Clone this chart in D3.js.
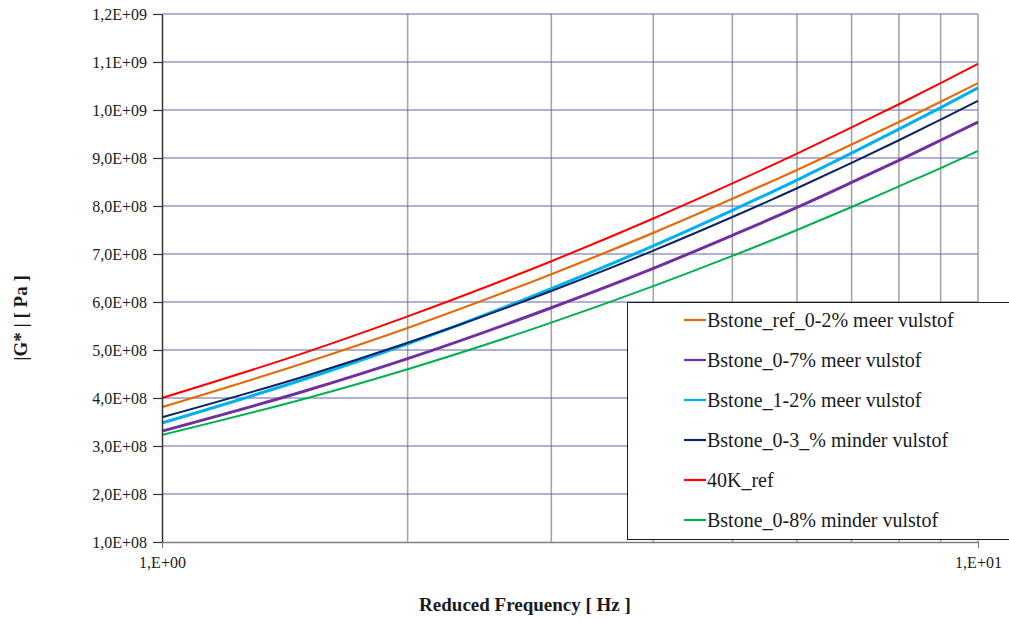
<!DOCTYPE html>
<html>
<head>
<meta charset="utf-8">
<script src="https://cdn.jsdelivr.net/npm/d3@7"></script>
<style>
  body { margin: 0; background: #fff; }
  svg { display: block; }
  text { font-family: "Liberation Serif", "Times New Roman", serif; fill: #1a1a1a; }
</style>
</head>
<body>
<svg id="chart" width="1009" height="621"></svg>
<script>
// Reduced frequency [Hz]
const frequencies = [1, 1.5, 2, 3, 4, 5, 6, 7, 8, 9, 10];

// |G*| [Pa] per mix
const bstoneRef02Meer = [3.81e8, 4.74e8, 5.46e8, 6.58e8, 7.44e8, 8.15e8, 8.75e8, 9.28e8, 9.75e8, 10.17e8, 10.56e8];
const bstone07Meer    = [3.31e8, 4.15e8, 4.82e8, 5.88e8, 6.70e8, 7.39e8, 7.97e8, 8.49e8, 8.95e8, 9.37e8, 9.75e8];
const bstone12Meer    = [3.48e8, 4.40e8, 5.13e8, 6.28e8, 7.17e8, 7.91e8, 8.54e8, 9.10e8, 9.60e8, 10.05e8, 10.46e8];
const bstone03Minder  = [3.60e8, 4.46e8, 5.15e8, 6.23e8, 7.07e8, 7.77e8, 8.37e8, 8.90e8, 9.37e8, 9.80e8, 10.19e8];
const ref40K          = [4.00e8, 4.95e8, 5.70e8, 6.85e8, 7.74e8, 8.47e8, 9.09e8, 9.64e8, 10.12e8, 10.56e8, 10.96e8];
const bstone08Minder  = [3.23e8, 3.99e8, 4.60e8, 5.57e8, 6.33e8, 6.96e8, 7.50e8, 7.98e8, 8.41e8, 8.79e8, 9.15e8];

const seriesNames  = ["Bstone_ref_0-2% meer vulstof", "Bstone_0-7% meer vulstof", "Bstone_1-2% meer vulstof",
                      "Bstone_0-3_% minder vulstof", "40K_ref", "Bstone_0-8% minder vulstof"];
const seriesValues = [bstoneRef02Meer, bstone07Meer, bstone12Meer, bstone03Minder, ref40K, bstone08Minder];
const seriesColors = ["#e36c0a", "#7030a0", "#00b0f0", "#0c2461", "#ff0000", "#00b050"];
const seriesWidths = [2.2, 3, 3, 2, 2, 2];

// Axis ticks
const yTickValues = [1e8, 2e8, 3e8, 4e8, 5e8, 6e8, 7e8, 8e8, 9e8, 1.0e9, 1.1e9, 1.2e9];
const yTickLabels = ["1,0E+08", "2,0E+08", "3,0E+08", "4,0E+08", "5,0E+08", "6,0E+08",
                     "7,0E+08", "8,0E+08", "9,0E+08", "1,0E+09", "1,1E+09", "1,2E+09"];
const xTickValues = [1, 10];
const xTickLabels = ["1,E+00", "1,E+01"];
const xGridValues = [2, 3, 4, 5, 6, 7, 8, 9];

const svg = d3.select("#chart");
const plot = { left: 162, right: 978, top: 14, bottom: 542 };

const x = d3.scaleLog().domain([1, 10]).range([plot.left, plot.right]);
const y = d3.scaleLinear().domain([1e8, 1.2e9]).range([plot.bottom, plot.top]);

// Vertical (minor decade) gridlines
svg.append("g").selectAll("line").data(xGridValues).join("line")
  .attr("x1", d => x(d)).attr("x2", d => x(d))
  .attr("y1", plot.top).attr("y2", plot.bottom)
  .attr("stroke", "#a6a6a6").attr("stroke-width", 1.6);

// Horizontal gridlines
svg.append("g").selectAll("line").data(yTickValues.slice(1)).join("line")
  .attr("x1", plot.left).attr("x2", plot.right)
  .attr("y1", d => y(d)).attr("y2", d => y(d))
  .attr("stroke", "#6464a4").attr("stroke-width", 1.1);

// Right edge of plot area
svg.append("line")
  .attr("x1", plot.right).attr("x2", plot.right)
  .attr("y1", plot.top).attr("y2", plot.bottom)
  .attr("stroke", "#a6a6a6").attr("stroke-width", 1.6);

// Series
const line = d3.line()
  .x((d, i) => x(frequencies[i]))
  .y(d => y(d))
  .curve(d3.curveMonotoneX);

svg.append("g").selectAll("path").data(seriesValues).join("path")
  .attr("d", d => line(d))
  .attr("fill", "none")
  .attr("stroke", (d, i) => seriesColors[i])
  .attr("stroke-width", (d, i) => seriesWidths[i]);

// Y axis
const yAxis = d3.axisLeft(y).tickValues(yTickValues)
  .tickFormat((d, i) => yTickLabels[i]).tickSize(9).tickSizeOuter(0).tickPadding(6);
const gy = svg.append("g").attr("transform", `translate(${plot.left},0)`).call(yAxis);
gy.select(".domain").attr("stroke", "#333").attr("stroke-width", 1.5);
gy.selectAll(".tick line").attr("stroke", "#333").attr("stroke-width", 1.2);
gy.selectAll(".tick text").style("font-size", "16px").attr("fill", "#1a1a1a")
  .style("font-family", "'Liberation Serif', serif");

// X axis
const xAxis = d3.axisBottom(x).tickValues(xTickValues)
  .tickFormat((d, i) => xTickLabels[i]).tickSize(6).tickSizeOuter(0).tickPadding(9);
const gx = svg.append("g").attr("transform", `translate(0,${plot.bottom})`).call(xAxis);
gx.select(".domain").attr("stroke", "#7f7f7f").attr("stroke-width", 1.6);
gx.selectAll(".tick line").attr("stroke", "#7f7f7f").attr("stroke-width", 1.2);
gx.selectAll(".tick text").style("font-size", "16px").attr("fill", "#1a1a1a")
  .style("font-family", "'Liberation Serif', serif");

// Axis titles
svg.append("text")
  .attr("x", 525).attr("y", 611)
  .attr("text-anchor", "middle")
  .style("font-size", "19px").style("font-weight", "bold")
  .text("Reduced Frequency [ Hz ]");

svg.append("text")
  .attr("transform", "translate(27,318) rotate(-90)")
  .attr("text-anchor", "middle")
  .style("font-size", "19px").style("font-weight", "bold")
  .text("|G* | [ Pa ]");

// Legend
const legend = svg.append("g");
legend.append("rect")
  .attr("x", 627.5).attr("y", 302.5)
  .attr("width", 400).attr("height", 237)
  .attr("fill", "#fff").attr("stroke", "#1a1a1a").attr("stroke-width", 1);

const items = legend.selectAll("g.item").data(seriesNames).join("g")
  .attr("class", "item")
  .attr("transform", (d, i) => `translate(684,${320 + i * 40})`);
items.append("line")
  .attr("x1", 0).attr("x2", 22).attr("y1", 0).attr("y2", 0)
  .attr("stroke", (d, i) => seriesColors[i]).attr("stroke-width", 2.2);
items.append("text")
  .attr("x", 23).attr("y", 7)
  .style("font-size", "20px")
  .text(d => d);
</script>
</body>
</html>
